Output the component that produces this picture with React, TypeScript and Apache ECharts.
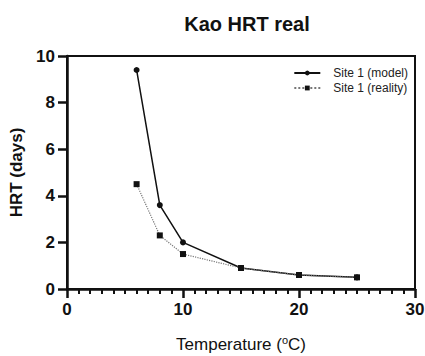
import React, { useEffect, useRef } from "react";
import * as echarts from "echarts";

const temps = [6, 8, 10, 15, 20, 25];
const modelHRT = [9.4, 3.6, 2.0, 0.9, 0.6, 0.5];
const realityHRT = [4.5, 2.3, 1.5, 0.9, 0.6, 0.5];
const seriesNames = ["Site 1 (model)", "Site 1 (reality)"];

export default function App() {
  const ref = useRef<HTMLDivElement>(null);
  useEffect(() => {
    const chart = echarts.init(ref.current!, null, { renderer: "svg" });
    const font = "Arial, 'Liberation Sans', sans-serif";
    chart.setOption({
      animation: false,
      backgroundColor: "#fff",
      textStyle: { fontFamily: font },
      title: {
        text: "Kao HRT real",
        left: 242,
        textAlign: "center",
        top: 9,
        textStyle: { fontSize: 20, fontWeight: "bold", color: "#111", fontFamily: font },
      },
      legend: {
        orient: "vertical",
        right: 12,
        top: 62,
        itemWidth: 26,
        itemHeight: 6,
        itemGap: 3,
        textStyle: { fontSize: 12, color: "#222", fontFamily: font, padding: [0, 0, 0, 8] },
        data: seriesNames,
      },
      grid: {
        left: 67,
        right: 10,
        top: 56,
        bottom: 67,
        show: true,
        borderColor: "#111",
        borderWidth: 2,
        containLabel: false,
        outerBoundsMode: "none",
      },
      xAxis: {
        type: "value",
        min: 0,
        max: 30,
        interval: 10,
        name: "Temperature ({sup|o}C)",
        nameLocation: "middle",
        nameGap: 45,
        nameTextStyle: {
          fontSize: 17,
          color: "#111",
          fontFamily: font,
          rich: {
            sup: { fontSize: 11, verticalAlign: "top", padding: [0, 0, 10, 0], color: "#111" },
          },
        },
        axisLine: { show: true, lineStyle: { color: "#111", width: 2.5 } },
        axisTick: { show: true, length: 9, lineStyle: { color: "#111", width: 2.5 } },
        minorTick: { show: true, splitNumber: 10, length: 5, lineStyle: { color: "#111", width: 2 } },
        axisLabel: { fontSize: 17, fontWeight: "bold", color: "#111", margin: 12, fontFamily: font },
        splitLine: { show: false },
      },
      yAxis: {
        type: "value",
        min: 0,
        max: 10,
        interval: 2,
        name: "HRT (days)",
        nameLocation: "middle",
        nameGap: 40,
        nameTextStyle: { fontSize: 17, fontWeight: "bold", color: "#111", fontFamily: font },
        axisLine: { show: true, lineStyle: { color: "#111", width: 2.5 } },
        axisTick: { show: true, length: 9, lineStyle: { color: "#111", width: 2.5 } },
        axisLabel: { fontSize: 17, fontWeight: "bold", color: "#111", margin: 12, fontFamily: font },
        splitLine: { show: false },
      },
      series: [
        {
          name: seriesNames[0],
          type: "line",
          data: temps.map((t, i) => [t, modelHRT[i]]),
          symbol: "circle",
          symbolSize: 6,
          itemStyle: { color: "#111" },
          lineStyle: { color: "#111", width: 1.5, type: "solid" },
          z: 2,
        },
        {
          name: seriesNames[1],
          type: "line",
          data: temps.map((t, i) => [t, realityHRT[i]]),
          symbol: "rect",
          symbolSize: 6,
          itemStyle: { color: "#111" },
          lineStyle: { color: "#777", width: 1.2, type: "dotted" },
          z: 3,
        },
      ],
    });
    return () => chart.dispose();
  }, []);
  return <div ref={ref} style={{ width: 425, height: 356, position: "absolute", left: 0, top: 0 }} />;
}
